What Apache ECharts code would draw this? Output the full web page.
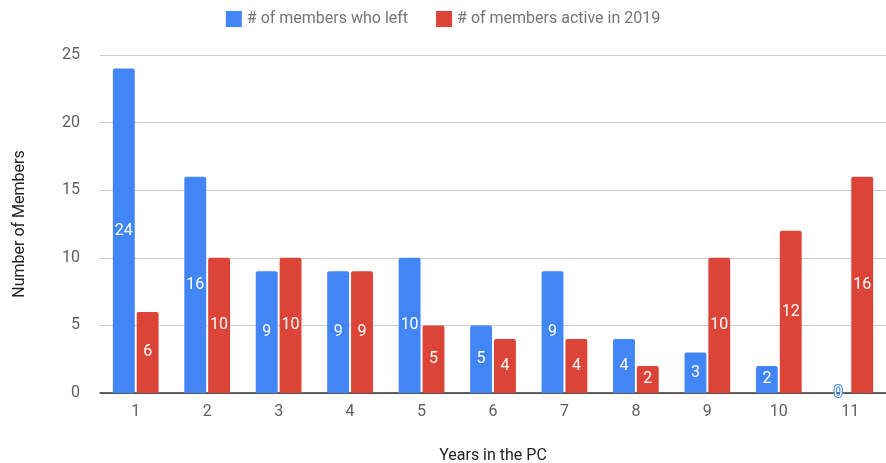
<!DOCTYPE html>
<html lang="en">
<head>
    <meta charset="UTF-8">
    <title>Members by years in the PC</title>
    <style>
        body { margin: 0; }
        div#main { width: 886px; height: 463px; }
    </style>
</head>
<body>
    <div id="main"></div>
    <script src="https://cdn.jsdelivr.net/npm/echarts@6/dist/echarts.min.js"></script>
    <script>
        const years = ['1', '2', '3', '4', '5', '6', '7', '8', '9', '10', '11'];
        const membersLeft = [24, 16, 9, 9, 10, 5, 9, 4, 3, 2, 0];
        const membersActive = [6, 10, 10, 9, 5, 4, 4, 2, 10, 12, 16];

        const chart = echarts.init(document.getElementById('main'));

        const barLabel = color => ({
            show: true,
            position: 'inside',
            color: '#fff',
            fontSize: 16,
            fontFamily: 'Roboto',
            textBorderColor: color,
            textBorderWidth: 2
        });

        const option = {
            textStyle: { fontFamily: 'Roboto' },
            legend: {
                top: 6,
                left: 'center',
                itemWidth: 16,
                itemHeight: 16,
                itemGap: 28,
                icon: 'rect',
                textStyle: { color: '#757575', fontSize: 16 }
            },
            grid: { left: 100, right: 0, top: 55, bottom: 70, containLabel: false, outerBoundsMode: 'none' },
            xAxis: {
                type: 'category',
                data: years,
                name: 'Years in the PC',
                nameLocation: 'middle',
                nameGap: 55,
                nameTextStyle: { color: '#222', fontSize: 16 },
                axisTick: { show: false },
                axisLine: { lineStyle: { color: '#333', width: 1.5 } },
                axisLabel: { color: '#5f5f5f', fontSize: 16, margin: 11 }
            },
            yAxis: {
                type: 'value',
                min: 0,
                max: 25,
                interval: 5,
                name: 'Number of Members',
                nameLocation: 'middle',
                nameGap: 72,
                nameTextStyle: { color: '#222', fontSize: 16 },
                axisLine: { show: false },
                axisTick: { show: false },
                axisLabel: { color: '#5f5f5f', fontSize: 16, margin: 20 },
                splitLine: { lineStyle: { color: '#ccc' } }
            },
            series: [
                {
                    name: '# of members who left',
                    type: 'bar',
                    data: membersLeft,
                    itemStyle: { color: '#4285F4', borderRadius: [2, 2, 0, 0] },
                    label: barLabel('#4285F4'),
                    barGap: '9%',
                    barCategoryGap: '36%'
                },
                {
                    name: '# of members active in 2019',
                    type: 'bar',
                    data: membersActive,
                    itemStyle: { color: '#DB4437', borderRadius: [2, 2, 0, 0] },
                    label: barLabel('#DB4437')
                }
            ]
        };

        chart.setOption(option);
    </script>
</body>
</html>
